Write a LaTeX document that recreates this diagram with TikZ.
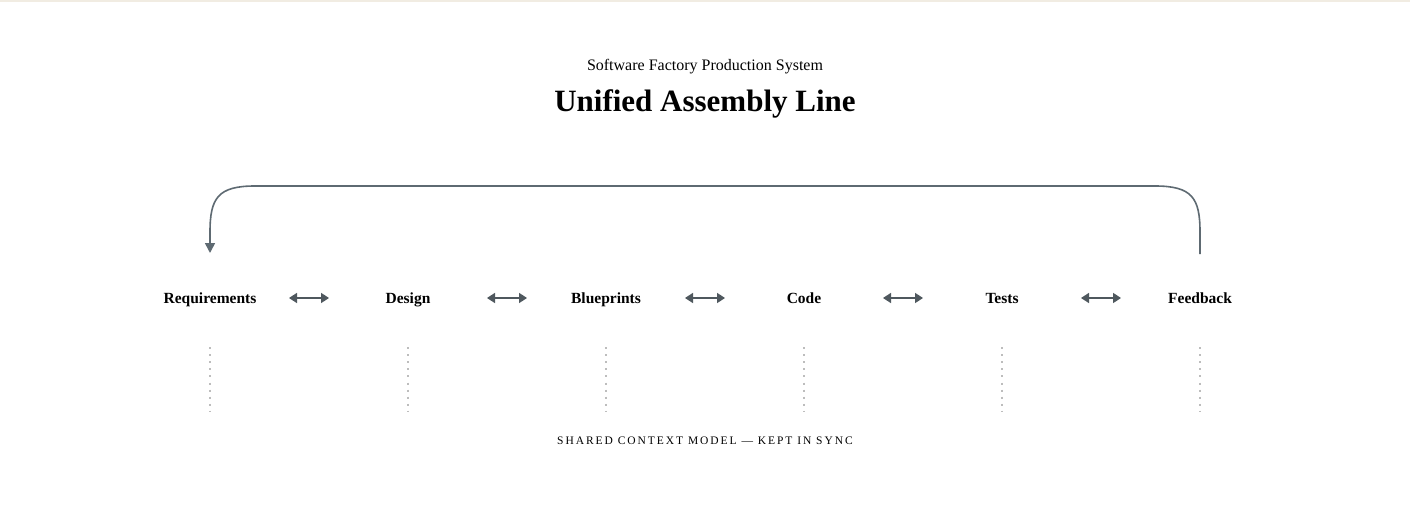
\documentclass[tikz,border=0pt]{standalone}
\usepackage{fontspec}
\setmainfont{Liberation Serif}
\newfontfamily\spacedfont[LetterSpace=17]{Liberation Serif}
\usetikzlibrary{arrows.meta}
\definecolor{arrowc}{HTML}{4F585E}
\definecolor{loopc}{HTML}{5E6A72}
\definecolor{dotc}{HTML}{BDBDBD}
\definecolor{topc}{HTML}{F1ECE2}
\begin{document}
\begin{tikzpicture}[x=1pt,y=-1pt,
  stage/.style={font=\fontsize{15.5}{18}\selectfont\bfseries, inner sep=0pt, anchor=base},
  link/.style={draw=arrowc, line width=1.6pt, {Triangle[length=8pt,width=10pt]}-{Triangle[length=8pt,width=10pt]}},
  loop/.style={draw=loopc, line width=1.6pt},
  ctx/.style={draw=dotc, line width=2pt, dash pattern=on 2pt off 5.1pt}]
\useasboundingbox (0,0) rectangle (1410,524);
\fill[white] (0,0) rectangle (1410,524);
\fill[topc] (0,0) rectangle (1410,2);
\node[font=\fontsize{16}{19}\selectfont, inner sep=0pt, anchor=base] (sub) at (705,71) {Software Factory Production System};
\node[font=\fontsize{31}{36}\selectfont\bfseries, inner sep=0pt, anchor=base] (title) at (705,112) {Unified Assembly Line};
\foreach \n/\t/\x in {req/Requirements/210, des/Design/408, blu/Blueprints/606, cod/Code/804, tes/Tests/1002, fee/Feedback/1200}{
  \node[stage] (\n) at (\x,303.5) {\t};
  \coordinate (\n-top) at (\x,347);
  \coordinate (\n-bot) at (\x,411);
  \draw[ctx] (\n-top) -- (\n-bot);
}
\foreach \a/\b in {req/des, des/blu, blu/cod, cod/tes, tes/fee}{
  \path (\a.base) -- (\b.base) coordinate[pos=0.5] (m\a);
  \draw[link] ([xshift=-20pt,yshift=5.5pt]m\a) -- ([xshift=20pt,yshift=5.5pt]m\a);
}
\coordinate (fstart) at (1200,254);
\coordinate (rend) at (210,253);
\draw[loop, -{Triangle[length=10pt,width=10pt]}] (fstart) -- (1200,232)
  .. controls (1200,198) and (1192,186) .. (1155,186) -- (255,186)
  .. controls (218,186) and (210,198) .. (210,232) -- (rend);
\node[font=\fontsize{11.5}{13}\selectfont\spacedfont, inner sep=0pt, anchor=base] (ctxlabel) at (705,444) {SHARED CONTEXT MODEL — KEPT IN SYNC};
\end{tikzpicture}
\end{document}
